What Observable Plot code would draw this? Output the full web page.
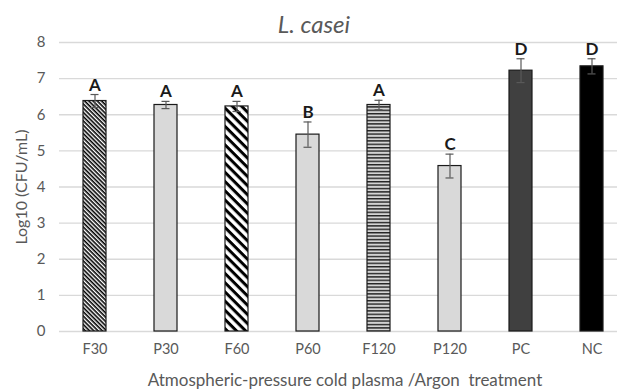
<!DOCTYPE html>
<html>
<head>
<meta charset="utf-8">
<script src="https://cdn.jsdelivr.net/npm/d3@7"></script>
<script src="https://cdn.jsdelivr.net/npm/@observablehq/plot@0.6"></script>
<style>
  html, body { margin: 0; padding: 0; background: #fff; overflow: hidden; width: 617px; height: 390px; }
  .box { position: relative; width: 617px; }
  .txt { position: absolute; white-space: nowrap; transform: translateX(-50%); color: #595959; font-family: Lato, "Open Sans", sans-serif; }
</style>
</head>
<body>
<div class="box" style="height:28px"><span class="txt" style="left:314px; top:11px; font-size:24px; line-height:26px; font-style:italic;">L. casei</span></div>
<div id="chart"></div>
<div class="box" style="height:26px"><span class="txt" style="left:345px; top:6px; font-size:17px; line-height:20px;">Atmospheric-pressure cold plasma /Argon&nbsp; treatment</span></div>
<script>
// ---- data ----
const categories = ["F30", "P30", "F60", "P60", "F120", "P120", "PC", "NC"];
const means      = [6.38, 6.27, 6.23, 5.45, 6.27, 4.58, 7.22, 7.34];
const errors     = [0.18, 0.10, 0.14, 0.35, 0.13, 0.33, 0.33, 0.21];
const letters    = ["A", "A", "A", "B", "A", "C", "D", "D"];
const yTicks     = [0, 1, 2, 3, 4, 5, 6, 7, 8];
const yTitle     = "Log10 (CFU/mL)";

// ---- styles ----
const fills = {
  F30: "url(#pF30)", P30: "#d9d9d9", F60: "url(#pF60)", P60: "#d9d9d9",
  F120: "url(#pF120)", P120: "#d9d9d9", PC: "#404040", NC: "#000000"
};

const data = categories.map((c, i) => ({cat: c, mean: means[i], err: errors[i], letter: letters[i]}));

const plot = Plot.plot({
  width: 617,
  height: 336,
  marginTop: 14,
  marginBottom: 33,
  marginLeft: 59,
  marginRight: 0,
  style: {fontFamily: "Lato, 'Open Sans', sans-serif", fontSize: "14px", color: "#595959", background: "transparent"},
  x: {domain: categories, range: [59, 627.4], paddingInner: 0.676, paddingOuter: 0.338, label: null},
  y: {domain: [0, 8], ticks: yTicks, label: null},
  marks: [
    Plot.gridY(yTicks, {stroke: "#d9d9d9", strokeOpacity: 1, strokeWidth: 1.3}),
    Plot.axisY(yTicks, {tickSize: 0, tickPadding: 14, label: null, fontSize: 15}),
    Plot.axisX({tickSize: 0, tickPadding: 12, label: null, fontSize: 14.5}),
    Plot.text([yTitle], {frameAnchor: "left", textAnchor: "middle", rotate: -90, dx: -38, fontSize: 16, fill: "#595959"}),
    Plot.barY(data, {x: "cat", y: "mean", fill: d => fills[d.cat], stroke: "#1a1a1a", strokeWidth: 1.2}),
    Plot.ruleX(data, {x: "cat", y1: d => d.mean - d.err, y2: d => d.mean + d.err, stroke: "#595959", strokeWidth: 1.2}),
    Plot.tickY(data, {x: "cat", y: d => d.mean + d.err, stroke: "#595959", strokeWidth: 1.2, insetLeft: 7.5, insetRight: 7.5}),
    Plot.tickY(data, {x: "cat", y: d => d.mean - d.err, stroke: "#595959", strokeWidth: 1.2, insetLeft: 7.5, insetRight: 7.5}),
    Plot.text(data, {x: "cat", y: d => d.mean + d.err, text: "letter", lineAnchor: "bottom", dy: -4, fontWeight: "bold", fontSize: 17, fill: "#1a1a1a"})
  ]
});

// pattern definitions
const defs = d3.create("svg:defs");
function diag(id, period, thick) {
  const p = defs.append("pattern").attr("id", id).attr("patternUnits", "userSpaceOnUse")
    .attr("width", period).attr("height", period).attr("patternTransform", "rotate(45)");
  p.append("rect").attr("width", period).attr("height", period).attr("fill", "#fff");
  p.append("rect").attr("width", period).attr("height", thick).attr("fill", "#000");
}
diag("pF30", 3, 1.6);
diag("pF60", 6.5, 3);
const ph = defs.append("pattern").attr("id", "pF120").attr("patternUnits", "userSpaceOnUse")
  .attr("width", 4).attr("height", 3.4);
ph.append("rect").attr("width", 4).attr("height", 3.4).attr("fill", "#d4d4d4");
ph.append("rect").attr("width", 4).attr("height", 1.4).attr("fill", "#222");
plot.insertBefore(defs.node(), plot.firstChild);

document.getElementById("chart").appendChild(plot);
</script>
</body>
</html>
